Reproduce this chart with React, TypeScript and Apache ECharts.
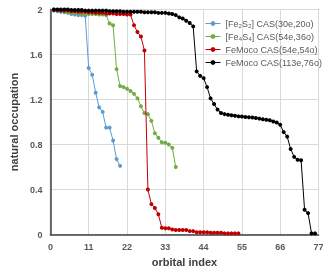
import React, { useEffect, useRef } from "react";
import * as echarts from "echarts";

const seriesNames = [
  "[Fe₂S₂] CAS(30e,20o)",
  "[Fe₄S₄] CAS(54e,36o)",
  "FeMoco CAS(54e,54o)",
  "FeMoco CAS(113e,76o)",
];
const seriesColors = ["#5B9BD5", "#70AD47", "#C00000", "#000000"];

const fe2s2 = [
  1.99, 1.985, 1.98, 1.975, 1.97, 1.96, 1.955, 1.95, 1.95, 1.945,
  1.48, 1.42, 1.26, 1.13, 1.09, 0.95, 0.95, 0.835, 0.67, 0.61,
];
const fe4s4 = [
  2.0, 1.99, 1.99, 1.98, 1.98, 1.97, 1.97, 1.97, 1.96, 1.96, 1.96, 1.96,
  1.96, 1.955, 1.955, 1.95, 1.876, 1.86, 1.47, 1.32, 1.31, 1.295, 1.275,
  1.25, 1.21, 1.14, 1.08, 1.07, 1.01, 0.9, 0.86, 0.82, 0.815, 0.8, 0.77, 0.6,
];
const femoco54 = [
  1.995, 1.995, 1.99, 1.99, 1.99, 1.985, 1.985, 1.98, 1.98, 1.98, 1.975,
  1.975, 1.97, 1.97, 1.97, 1.965, 1.965, 1.965, 1.96, 1.96, 1.96, 1.955,
  1.955, 1.86, 1.8, 1.76, 1.635, 0.4, 0.27, 0.235, 0.18, 0.06, 0.055, 0.055,
  0.045, 0.04, 0.04, 0.04, 0.04, 0.03, 0.03, 0.02, 0.02, 0.02, 0.02, 0.015,
  0.015, 0.015, 0.015, 0.01, 0.01, 0.01, 0.01, 0.01,
];
const femoco76 = [
  2.0, 2.0, 2.0, 2.0, 2.0, 1.995, 1.995, 1.995, 1.995, 1.99,
  1.99, 1.99, 1.99, 1.99, 1.99, 1.99, 1.985, 1.985, 1.985, 1.985,
  1.98, 1.98, 1.98, 1.98, 1.98, 1.98, 1.975, 1.975, 1.975, 1.975,
  1.97, 1.97, 1.97, 1.965, 1.96, 1.95, 1.93, 1.92, 1.9, 1.88, 1.85,
  1.45, 1.41, 1.39, 1.31, 1.21, 1.16, 1.11, 1.08,
  1.07, 1.065, 1.06, 1.055, 1.05, 1.048, 1.045, 1.042, 1.04, 1.035, 1.03,
  1.025, 1.02, 1.015, 1.005, 0.995, 0.975,
  0.91, 0.87, 0.76, 0.69, 0.665, 0.66, 0.22, 0.19, 0.01, 0.01,
];
const allSeries = [fe2s2, fe4s4, femoco54, femoco76];

const xTicks = { min: 0, max: 77, interval: 11 };
const yTicks = { min: 0, max: 2, interval: 0.4 };

export default function App() {
  const ref = useRef<HTMLDivElement>(null);
  useEffect(() => {
    if (!ref.current) return;
    const chart = echarts.init(ref.current, null, { renderer: "svg" });
    const font = "Liberation Sans, Arial, sans-serif";
    chart.setOption({
      animation: false,
      textStyle: { fontFamily: font },
      grid: {
        left: 48.5,
        right: 13.5,
        top: 9.5,
        bottom: 41.5,
        show: true,
        borderColor: "#404040",
        borderWidth: 1,
      },
      legend: {
        orient: "vertical",
        left: 200,
        top: 14,
        itemGap: 4,
        itemWidth: 15,
        itemHeight: 6,
        lineStyle: { width: 1 },
        textStyle: { fontSize: 9, color: "#595959", fontFamily: font },
        data: seriesNames,
      },
      xAxis: {
        type: "value",
        min: xTicks.min,
        max: xTicks.max,
        interval: xTicks.interval,
        name: "orbital index",
        nameLocation: "middle",
        nameGap: 22,
        nameTextStyle: { fontSize: 11, fontWeight: "bold", color: "#404040" },
        axisLine: { lineStyle: { color: "#404040", width: 1.5 } },
        axisTick: { show: false },
        axisLabel: { fontSize: 9, fontWeight: "bold", color: "#595959", margin: 8 },
        splitLine: { show: true, lineStyle: { color: "#d9d9d9" } },
      },
      yAxis: {
        type: "value",
        min: yTicks.min,
        max: yTicks.max,
        interval: yTicks.interval,
        name: "natural occupation",
        nameLocation: "middle",
        nameGap: 30,
        nameTextStyle: { fontSize: 11, fontWeight: "bold", color: "#404040" },
        axisLine: { show: true, lineStyle: { color: "#404040", width: 1.5 } },
        axisTick: { show: false },
        axisLabel: {
          fontSize: 9,
          fontWeight: "bold",
          color: "#595959",
          margin: 8,
          formatter: (v: number) => String(Math.round(v * 10) / 10),
        },
        splitLine: { show: true, lineStyle: { color: "#d9d9d9" } },
      },
      series: allSeries.map((arr, i) => ({
        name: seriesNames[i],
        type: "line",
        data: arr.map((v, j) => [j + 1, v]),
        symbol: "circle",
        symbolSize: 4,
        showSymbol: true,
        color: seriesColors[i],
        lineStyle: { width: 1, color: seriesColors[i] },
        itemStyle: { color: seriesColors[i] },
        z: 2 + i,
      })),
    });
    return () => chart.dispose();
  }, []);
  return (
    <div
      ref={ref}
      style={{ position: "fixed", left: 0, top: 0, width: 332, height: 276 }}
    />
  );
}
